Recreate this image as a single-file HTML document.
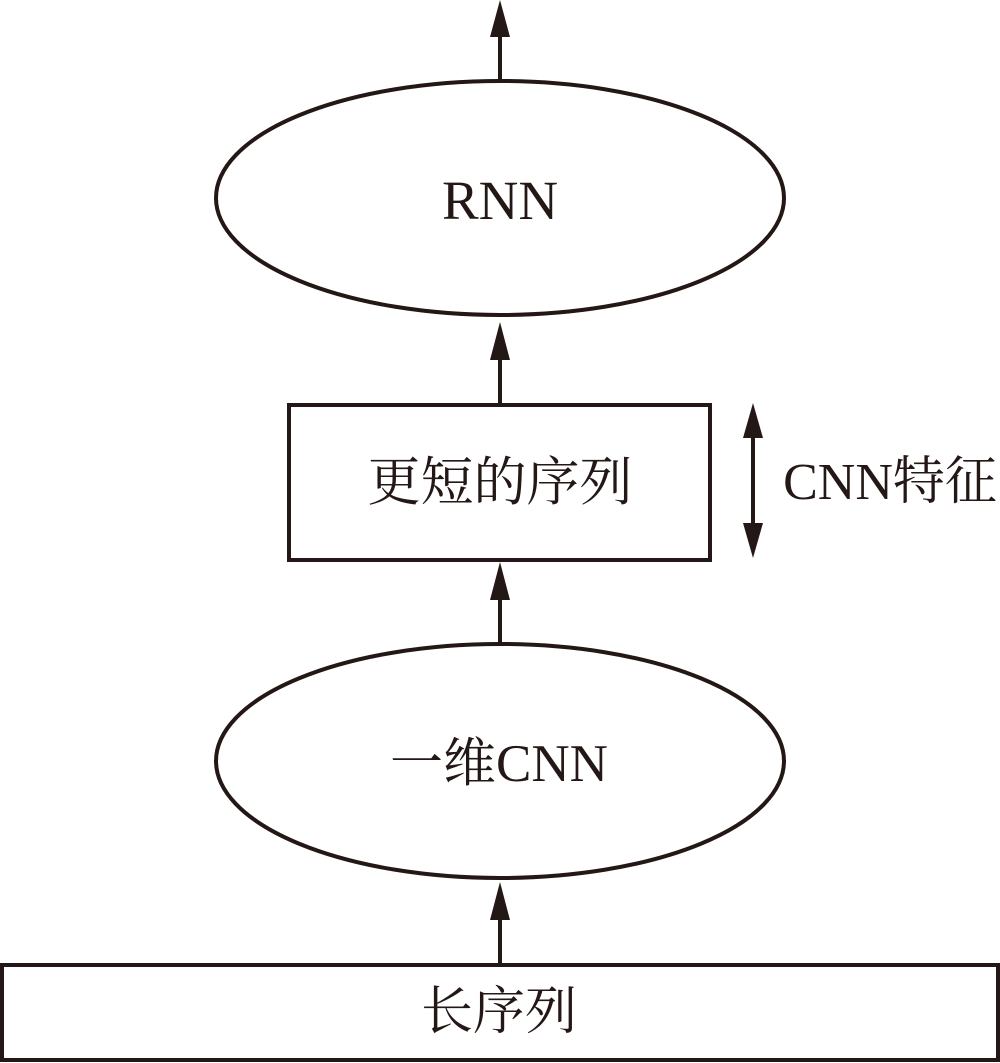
<!DOCTYPE html>
<html><head><meta charset="utf-8"><style>
html,body{margin:0;padding:0;background:#fff;}
svg{display:block;}
text{font-family:"Liberation Serif","Noto Serif CJK SC",serif;fill:#231815;}
</style></head><body>
<svg width="1000" height="1063" viewBox="0 0 1000 1063" xmlns="http://www.w3.org/2000/svg">
<g stroke="#231815" stroke-width="4" fill="none">
<ellipse cx="500" cy="198" rx="284" ry="117"/>
<rect x="289" y="405" width="421" height="155"/>
<ellipse cx="500" cy="761" rx="284" ry="117"/>
<rect x="2" y="965" width="996" height="95"/>
<line x1="500" y1="80" x2="500" y2="30"/>
<line x1="500" y1="405" x2="500" y2="350"/>
<line x1="500" y1="643" x2="500" y2="590"/>
<line x1="500" y1="965" x2="500" y2="910"/>
<line x1="753" y1="430" x2="753" y2="530"/>
</g>
<g fill="#231815">
<polygon points="500,0 490,37 510,37"/>
<polygon points="500,322 490,360 510,360"/>
<polygon points="500,562 490,600 510,600"/>
<polygon points="500,882 490,920 510,920"/>
<polygon points="753,403 743,438 763,438"/>
<polygon points="753,558 743,523 763,523"/>
</g>
<text x="500" y="219" font-size="55" text-anchor="middle">RNN</text>
<text x="500" y="500" font-size="53" text-anchor="middle">更短的序列</text>
<text x="890" y="499" font-size="52" text-anchor="middle">CNN特征</text>
<text x="499" y="781" font-size="53" text-anchor="middle">一维CNN</text>
<text x="499" y="1029" font-size="52" text-anchor="middle">长序列</text>
</svg>
</body></html>
